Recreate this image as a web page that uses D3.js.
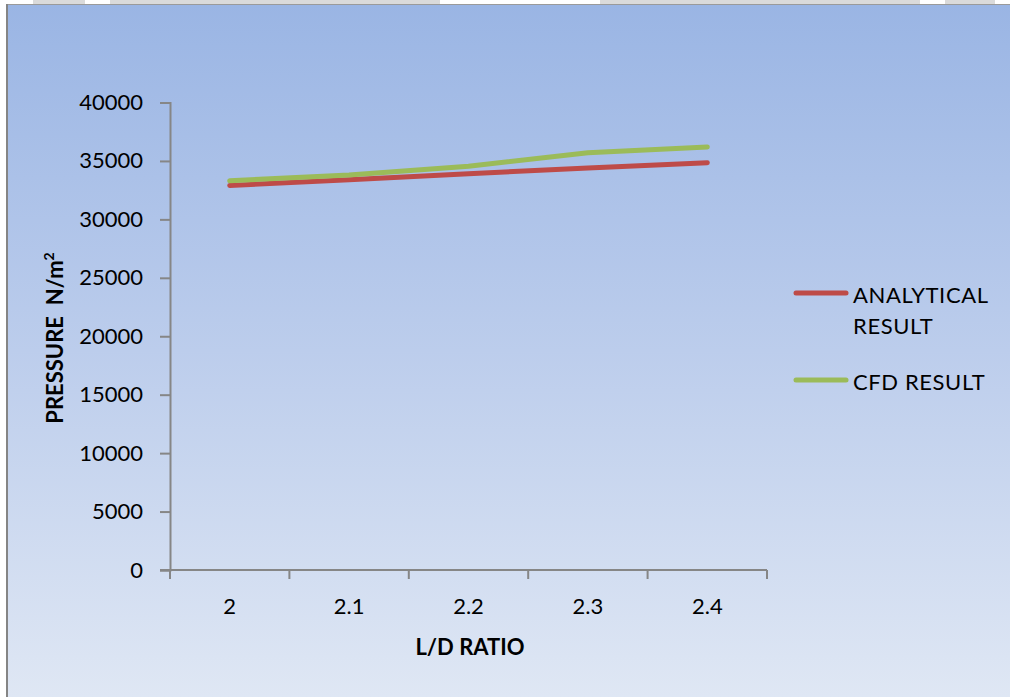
<!DOCTYPE html>
<html>
<head>
<meta charset="utf-8">
<script src="https://cdn.jsdelivr.net/npm/d3@7"></script>
<style>
  html, body { margin: 0; padding: 0; background: #ffffff; }
  svg { display: block; }
  text { font-family: Lato, "Open Sans", sans-serif; fill: #000; }
</style>
</head>
<body>
<svg id="chart" width="1010" height="697"></svg>
<script>
// L/D ratio categories and pressure results (N/m²)
const ratios = ["2", "2.1", "2.2", "2.3", "2.4"];
const analytical = [32900, 33400, 33900, 34400, 34850];
const cfd = [33300, 33800, 34550, 35700, 36200];
const yTicks = [0, 5000, 10000, 15000, 20000, 25000, 30000, 35000, 40000];

const seriesNames = ["ANALYTICAL RESULT", "CFD RESULT"];
const seriesColors = ["#be4b48", "#9bbb59"];

const svg = d3.select("#chart");
const W = 1010, H = 697;

// header strip above the chart frame
const strip = [[0, 33, "#ffffff"], [33, 85, "#dadada"], [85, 110, "#ffffff"], [110, 440, "#dadada"],
               [440, 600, "#ffffff"], [600, 920, "#dadada"], [920, 945, "#ffffff"], [945, 995, "#dadada"], [995, 1010, "#ffffff"]];
svg.selectAll("rect.strip").data(strip).join("rect")
  .attr("class", "strip")
  .attr("x", d => d[0]).attr("y", 0)
  .attr("width", d => d[1] - d[0]).attr("height", 4)
  .attr("fill", d => d[2]);

// chart background gradient
const defs = svg.append("defs");
const grad = defs.append("linearGradient").attr("id", "bg")
  .attr("x1", 0).attr("y1", 0).attr("x2", 0).attr("y2", 1);
grad.append("stop").attr("offset", "0%").attr("stop-color", "#9ab5e4");
grad.append("stop").attr("offset", "50%").attr("stop-color", "#bccdec");
grad.append("stop").attr("offset", "100%").attr("stop-color", "#dfe7f4");

svg.append("rect").attr("x", 7).attr("y", 4).attr("width", W - 7).attr("height", H - 4)
  .attr("fill", "url(#bg)");
svg.append("line").attr("x1", 7).attr("x2", W).attr("y1", 4.5).attr("y2", 4.5)
  .attr("stroke", "#9a9a9a").attr("stroke-width", 1);
svg.append("line").attr("x1", 7).attr("x2", 7).attr("y1", 4).attr("y2", H)
  .attr("stroke", "#858585").attr("stroke-width", 2);

// scales
const x = d3.scaleBand().domain(ratios).range([170, 767]);
const y = d3.scaleLinear().domain([0, 40000]).range([570, 102.5]);

const axisColor = "#868686";

// y axis
const yAxis = svg.append("g").attr("transform", "translate(170,0)")
  .call(d3.axisLeft(y).tickValues(yTicks).tickSize(10).tickPadding(17).tickFormat(d3.format("d")));
yAxis.select(".domain").attr("stroke", axisColor).attr("stroke-width", 2);
yAxis.selectAll(".tick line").attr("stroke", axisColor).attr("stroke-width", 2);
yAxis.selectAll(".tick text").attr("font-size", 22).attr("font-family", "Lato").attr("fill", "#000");

// x axis with tick marks on band boundaries
const xAxis = svg.append("g").attr("transform", "translate(0,570)")
  .call(d3.axisBottom(x).tickSize(0).tickPadding(28));
xAxis.select(".domain").remove();
xAxis.selectAll(".tick text").attr("font-size", 22).attr("font-family", "Lato").attr("fill", "#000");
svg.append("line").attr("x1", 160).attr("x2", 767).attr("y1", 570).attr("y2", 570)
  .attr("stroke", axisColor).attr("stroke-width", 2);
const bounds = ratios.map(r => x(r)).concat([x(ratios[ratios.length - 1]) + x.bandwidth()]);
svg.selectAll("line.xtick").data(bounds).join("line")
  .attr("class", "xtick")
  .attr("x1", d => d).attr("x2", d => d)
  .attr("y1", 570).attr("y2", 579)
  .attr("stroke", axisColor).attr("stroke-width", 2);

// axis titles
svg.append("text").attr("x", 470).attr("y", 655).attr("text-anchor", "middle")
  .attr("font-size", 22).attr("font-weight", "bold").text("L/D RATIO");

const yTitle = svg.append("text")
  .attr("transform", "translate(63,338) rotate(-90)")
  .attr("text-anchor", "middle")
  .attr("font-size", 22).attr("font-weight", "bold")
  .attr("xml:space", "preserve");
yTitle.append("tspan").text("PRESSURE  N/m");
yTitle.append("tspan").attr("font-size", 14).attr("dy", -9).text("2");

// series lines
const line = d3.line().x((d, i) => x(ratios[i]) + x.bandwidth() / 2).y(d => y(d));
[analytical, cfd].forEach((vals, k) => {
  svg.append("path").datum(vals)
    .attr("d", line)
    .attr("fill", "none")
    .attr("stroke", seriesColors[k])
    .attr("stroke-width", 5)
    .attr("stroke-linecap", "round")
    .attr("stroke-linejoin", "round");
});

// legend
const legendRows = [
  { lines: ["ANALYTICAL", "RESULT"], y: 293 },
  { lines: ["CFD RESULT"], y: 380 }
];
legendRows.forEach((row, k) => {
  svg.append("line").attr("x1", 796).attr("x2", 846).attr("y1", row.y).attr("y2", row.y)
    .attr("stroke", seriesColors[k]).attr("stroke-width", 5).attr("stroke-linecap", "round");
  row.lines.forEach((t, j) => {
    svg.append("text").attr("x", 853).attr("y", row.y + 10 + j * 31)
      .attr("font-size", 22).attr("letter-spacing", 0.6).text(t);
  });
});
</script>
</body>
</html>
